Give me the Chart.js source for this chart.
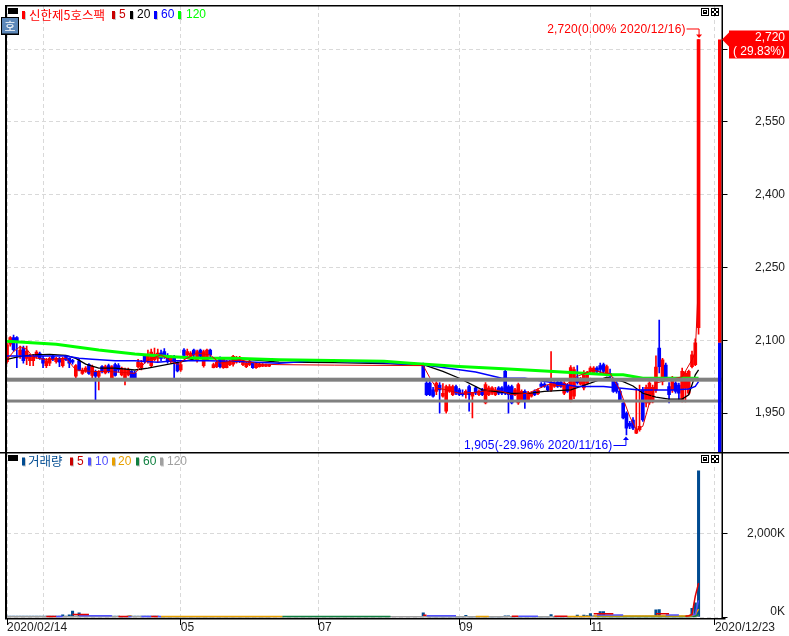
<!DOCTYPE html>
<html>
<head>
<meta charset="utf-8">
<style>
body { margin: 0; background: #fff; }
canvas { position: absolute; left: 0; }
#price { top: 0; }
#volume { top: 452px; }
</style>
<script src="https://cdn.jsdelivr.net/npm/chart.js@4"></script>
</head>
<body>
<canvas id="price" width="789" height="452"></canvas>
<canvas id="volume" width="789" height="184"></canvas>
<script>
// day 0 = 2020/02/14, day 216 = 2020/12/23
const dayCount = 219;
const tickDays = [0, 11, 53, 95, 138, 178, 216];
const tickTexts = ['2020/02/14', '', '05', '07', '09', '11', '2020/12/23'];
const priceTicks = [1950, 2100, 2250, 2400, 2550, 2700];
const volumeTicks = [0, 2000];

// trading stopped between the two runs
const firstRunDays = 81;
const secondRunStart = 127;

const opens = [2056,2092,2106,2106,2070,2084,2063,2058,2058,2067,2073,2063,2048,2053,2067,2056,2063,2048,2067,2063,
  2059,2026,2058,2032,2036,2050,2028,2036,2026,2046,2033,2048,2022,2050,2048,2029,2022,2029,2036,2033,
  2046,2043,2067,2056,2048,2060,2063,2074,2077,2067,2056,2063,2053,2039,2080,2070,2063,2080,2058,2080,
  2048,2060,2080,2044,2046,2063,2044,2044,2050,2051,2055,2056,2050,2046,2050,2053,2044,2046,2047,2047,2047,
  2050,2012,2012,1998,1995,2008,1985,1954,1995,1988,2005,1998,1991,1988,2005,1985,2002,1988,1998,1971,
  1988,1991,1988,2002,2002,2036,2005,2005,1988,1971,1978,1995,1978,1985,1995,1990,2010,2010,2005,1998,
  2005,2014,2014,1991,2008,1978,1985,2023,2010,2002,2012,2036,2033,2043,2048,2050,2032,2032,2019,2011,
  1995,1971,1950,1929,1936,1909,1916,1998,1971,1971,1973,1998,2084,2015,2049,2005,1998,2012,2008,1978,
  2001,1991,2046,2050,2126];
const closes = [2091,2106,2081,2098,2080,2058,2078,2067,2067,2076,2063,2053,2058,2063,2060,2063,2055,2063,2060,2053,
  2055,2048,2039,2039,2043,2032,2046,2026,2036,2036,2046,2037,2046,2028,2039,2043,2039,2039,2022,2022,
  2055,2053,2058,2067,2076,2072,2074,2063,2067,2056,2063,2055,2037,2050,2069,2077,2074,2070,2077,2067,
  2077,2080,2070,2050,2055,2046,2062,2056,2056,2067,2065,2065,2058,2053,2057,2044,2051,2051,2050,2049,2049,
  2022,1988,1988,1985,2012,1998,1991,2005,2005,2005,1991,1988,1988,1995,1988,1991,1991,1995,1988,2009,
  2002,2002,1998,1991,1991,1991,1988,1971,1998,2009,1995,1978,1991,1991,1988,1997,2005,2005,1998,2012,
  2012,2005,2005,2012,1995,2044,2040,2013,2020,2029,2033,2043,2043,2036,2040,2036,2046,2026,1995,1995,
  1978,1940,1919,1923,1919,1916,1923,1936,2003,2012,2003,2045,2046,2060,2022,1988,2022,1995,1991,2036,
  2032,2036,2070,2095,2720];
const highs = [2094,2108,2111,2108,2088,2088,2088,2071,2071,2079,2076,2067,2063,2065,2071,2065,2065,2065,2069,2064,
  2061,2050,2061,2043,2046,2052,2049,2039,2038,2048,2049,2051,2048,2053,2052,2045,2043,2043,2038,2036,
  2061,2059,2071,2080,2082,2084,2082,2080,2083,2073,2068,2069,2056,2055,2083,2082,2077,2082,2080,2082,
  2080,2082,2082,2053,2058,2066,2065,2059,2059,2069,2067,2067,2060,2055,2059,2055,2053,2053,2052,2051,2050,
  2053,2018,2015,2003,2015,2013,2011,2008,2009,2008,2008,2001,1998,1998,2008,1993,2005,1998,2001,2013,
  2006,2005,2003,2005,2005,2039,2008,2008,2001,2012,1998,1998,1995,1994,1998,2000,2013,2013,2008,2077,
  2015,2017,2017,2015,2011,2048,2045,2048,2024,2038,2036,2046,2046,2046,2053,2053,2049,2041,2023,2015,
  1999,1978,1953,1933,1941,1998,2008,2003,2008,2015,2008,2068,2142,2063,2053,2013,2026,2015,2012,2043,
  2036,2039,2078,2103,2720];
const lows = [2053,2088,2078,2044,2063,2053,2050,2048,2048,2063,2061,2044,2044,2048,2058,2053,2046,2045,2058,2044,
  2051,2023,2037,2030,2034,2030,2023,1977,1998,2033,2031,2033,2020,2026,2035,2027,2008,2027,2020,2020,
  2043,2039,2053,2053,2045,2058,2055,2058,2063,2053,2053,2023,2035,2036,2063,2063,2061,2063,2055,2063,
  2045,2058,2065,2043,2044,2043,2042,2043,2048,2047,2053,2054,2048,2044,2048,2042,2042,2045,2046,2046,2046,
  2018,1986,1986,1983,1988,1950,1983,1950,1993,1986,1988,1986,1985,1981,1954,1940,1988,1986,1986,1969,
  1986,1988,1986,1988,1988,1988,1950,1969,1986,1968,1976,1960,1976,1983,1986,1988,2003,2003,1996,1995,
  2003,2003,2003,1988,1993,1973,1980,2010,2008,1998,2010,2030,2030,2033,2033,2033,2029,2018,1993,1991,
  1975,1938,1905,1918,1916,1908,1913,1933,1963,1968,1971,1993,2033,2008,2018,1971,1993,1991,1978,1973,
  1973,1988,2043,2048,2113];

// moving averages read at the bends of each line
const ma5Days = [0,2,4,6,8,12,18,21,26,31,39,43,47,52,54,58,62,65,71,77,83,100,127,129,131,134,138,143,148,151,154,159,165,170,174,179,182,184,187,190,192,194,196,198,202,206,209,210,211];
const ma5Vals = [2060,2077,2087,2082,2065,2060,2063,2039,2036,2036,2032,2060,2070,2050,2060,2074,2070,2053,2060,2051,2050,2049,2048,2023,2002,1998,1991,1993,1998,1995,1988,1991,2009,2006,2026,2039,2033,2032,1998,1943,1916,1923,1971,2012,2019,2025,2060,2075,2225];
const ma20Days = [0,2,4,8,13,18,21,24,28,33,39,43,47,51,56,59,64,69,75,83,100,115,127,133,138,145,154,159,164,172,178,183,188,191,194,198,202,206,208,210,211];
const ma20Vals = [2061,2064,2067,2070,2071,2069,2063,2051,2043,2043,2039,2043,2048,2053,2060,2065,2063,2062,2060,2055,2054,2052,2050,2036,2022,1998,1991,1991,1995,1998,2012,2024,2015,2006,1991,1983,1979,1979,1988,2029,2039];
const ma60Days = [0,12,18,22,26,33,39,46,51,61,69,83,94,115,123,127,133,143,151,158,174,182,193,203,208,210,211];
const ma60Vals = [2068,2068,2068,2063,2061,2058,2058,2055,2058,2058,2057,2053,2058,2054,2050,2050,2044,2035,2022,2022,2005,2005,1998,1998,2000,2005,2015];
const ma120Days = [0,15,28,39,49,59,69,83,94,115,123,138,153,164,184,188,194,211];
const ma120Vals = [2098,2092,2080,2072,2067,2063,2063,2060,2059,2057,2053,2046,2041,2037,2029,2029,2022,2022];

const grayLevels = [2019, 1975];
const highDay = 211, highVal = 2720, prevClose = 2095;
const lowDay = 189, lowVal = 1905;

// volume in thousands, same two runs as the candles
const volumes = [20,20,20,20,20,20,20,20,20,20,20,20,20,20,20,20,20,50,20,50,
  140,20,100,20,20,20,20,20,20,20,20,20,20,20,20,5,5,20,20,20,
  20,20,20,20,20,20,20,3,3,3,3,3,3,3,3,3,3,3,3,3,
  3,3,3,3,3,3,3,3,3,3,3,3,3,3,3,3,3,3,3,3,3,
  100,10,3,3,3,3,3,3,3,3,3,3,3,40,3,3,3,3,3,3,
  3,3,3,3,3,30,30,3,3,3,3,3,3,3,3,3,3,3,3,60,
  3,3,3,3,3,3,3,45,3,45,35,80,30,30,130,130,30,24,24,24,
  24,24,24,24,24,24,24,24,24,24,24,170,180,24,24,24,24,24,24,24,
  24,24,210,340,3518];
const volMa5Days = [12,15,null,20,25,null,34,37,null,44,46,null,127,128,null,154,156,null,167,171,null,179,185,null,198,202,null,207,208,209,210,211];
const volMa5Vals = [10,10,null,60,60,null,10,10,null,12,12,null,40,40,null,20,20,null,20,20,null,80,80,null,80,80,null,20,30,60,500,817];
const volMa10Days = [15,17,null,22,32,null,37,38,null,41,44,null,46,47,null,128,137,null,156,162,null,180,188,null,201,205,null,209,210,211];
const volMa10Vals = [10,10,null,30,30,null,10,10,null,12,12,null,12,12,null,30,30,null,20,20,null,50,50,null,50,50,null,40,70,400];
const volMa20Days = [37,38,null,47,84,null,143,147,null,171,178,null,179,208,209,210,211];
const volMa20Vals = [30,30,null,12,12,null,12,12,null,12,12,null,25,25,30,60,190];
const volMa60Days = [84,117,null,180,208,210,211];
const volMa60Vals = [10,10,null,12,14,20,60];
const volMa120Days = [0,208,210,211];
const volMa120Vals = [6,8,12,35];

const RED = '#ff0000', BLUE = '#0000ff', SANS = '"Liberation Sans"', KR = '"Noto Sans CJK KR"';

const dayLabels = Array.from({ length: dayCount }, (_, i) => i);

function runDay(run) {
  return run < firstRunDays ? run : secondRunStart + run - firstRunDays;
}
function byDay(vals) {
  const out = new Array(dayCount).fill(null);
  vals.forEach((v, run) => { out[runDay(run)] = v; });
  return out;
}
function points(days, vals) {
  return days.map((d, i) => d === null ? { x: days[i - 1], y: null } : { x: d, y: vals[i] });
}
function lineSet(days, vals, color, width, order) {
  return { type: 'line', data: points(days, vals), borderColor: color, borderWidth: width,
    pointRadius: 0, tension: 0, spanGaps: false, order: order };
}

const barColors = byDay(opens.map((o, i) => closes[i] >= o ? RED : BLUE));
const bodies = byDay(opens.map((o, i) => [o, closes[i]]));
const wicks = byDay(lows.map((l, i) => [l, highs[i]]));

function xAxis(showLabels) {
  return {
    offset: false,
    grid: { offset: false, color: '#d9d9d9', drawTicks: showLabels, tickLength: 7,
      tickColor: c => tickTexts[c.index] === '' ? 'rgba(0,0,0,0)' : '#000' },
    border: { display: false, dash: [4, 3] },
    afterBuildTicks: s => { s.ticks = tickDays.map(d => ({ value: d })); },
    afterFit: s => { s.height = showLabels ? 18 : 0; s.paddingLeft = 0; s.paddingRight = 0; },
    ticks: { display: showLabels, autoSkip: false, maxRotation: 0, align: 'start', padding: -5, color: '#222',
      font: { family: SANS, size: 12 },
      callback: v => tickTexts[tickDays.indexOf(v)] }
  };
}
function yAxis(tickVals, min, max, fmt) {
  return {
    position: 'right', min: min, max: max,
    grid: { color: '#d9d9d9', tickColor: '#000', tickLength: 6 },
    border: { display: false, dash: [4, 3] },
    afterBuildTicks: s => { s.ticks = tickVals.map(v => ({ value: v })); },
    afterFit: s => { s.width = 63.5; s.paddingTop = 0; s.paddingBottom = 0; },
    ticks: { crossAlign: 'far', padding: 3, color: '#222', font: { family: SANS, size: 12 }, callback: fmt }
  };
}

function text(ctx, str, x, y, color, font, align) {
  ctx.fillStyle = color;
  ctx.font = font;
  ctx.textAlign = align || 'left';
  ctx.textBaseline = 'middle';
  ctx.fillText(str, x, y);
}
function legendRow(ctx, y, items) {
  // each item: marker x, text x, colour, label, font
  items.forEach(it => {
    ctx.fillStyle = '#c8c8c8';
    ctx.fillRect(it[0] + 1, y - 3, 3, 8);
    ctx.fillStyle = it[2];
    ctx.fillRect(it[0], y - 4, 3, 8);
    text(ctx, it[3], it[1], y, it[2], it[4]);
  });
}
function panelButtons(ctx, y) {
  ctx.fillStyle = '#000';
  ctx.fillRect(8, y, 10, 6);
  ctx.fillRect(701, y, 8, 8);
  ctx.fillRect(711, y, 8, 8);
  ctx.fillStyle = '#fff';
  ctx.fillRect(702, y + 1, 6, 6);
  ctx.fillRect(712, y + 1, 2, 2);
  ctx.fillRect(716, y + 1, 2, 2);
  ctx.fillRect(714, y + 3, 2, 2);
  ctx.fillRect(712, y + 5, 2, 2);
  ctx.fillRect(716, y + 5, 2, 2);
  ctx.fillStyle = '#000';
  ctx.fillRect(703, y + 2, 4, 4);
  ctx.fillStyle = '#fff';
  ctx.fillRect(704, y + 3, 2, 1);
}
function frame(ctx, a) {
  ctx.fillStyle = '#000';
  ctx.fillRect(a.left - 2, a.top - 1, a.right - a.left + 3.5, 1.5);
  ctx.fillRect(a.left - 2, a.top - 1, 2, a.bottom - a.top + 2);
  ctx.fillRect(a.right, a.top - 1, 1.5, a.bottom - a.top + 2);
}

const pricePlugin = {
  id: 'pricePlugin',
  afterDatasetsDraw(chart) {
    const ctx = chart.ctx, a = chart.chartArea, xs = chart.scales.x, ys = chart.scales.y;
    ctx.save();
    ctx.fillStyle = '#808080';
    ctx.fillRect(a.left, ys.getPixelForValue(grayLevels[0]) - 2, a.right - a.left, 4);
    ctx.fillRect(a.left, ys.getPixelForValue(grayLevels[1]) - 1.5, a.right - a.left, 3);
    // today's range gauge next to the axis
    const gaugeTop = ys.getPixelForValue(highVal), gaugeMid = ys.getPixelForValue(prevClose);
    ctx.fillStyle = RED;
    ctx.fillRect(a.right - 3.5, gaugeTop, 3.5, gaugeMid - gaugeTop);
    ctx.fillStyle = BLUE;
    ctx.fillRect(a.right - 3.5, gaugeMid, 3.5, a.bottom - gaugeMid);
    frame(ctx, a);
    panelButtons(ctx, 8);
    // high and low callouts
    const hx = xs.getPixelForValue(highDay), hy = ys.getPixelForValue(highVal);
    ctx.letterSpacing = '0.13px';
    text(ctx, '2,720(0.00% 2020/12/16)', hx - 13, hy - 10, RED, '12px ' + SANS, 'right');
    ctx.strokeStyle = RED;
    ctx.lineWidth = 1;
    ctx.beginPath();
    ctx.moveTo(hx - 12, hy - 10.5); ctx.lineTo(hx + 0.5, hy - 10.5); ctx.lineTo(hx + 0.5, hy - 3);
    ctx.stroke();
    ctx.fillStyle = RED;
    ctx.beginPath();
    ctx.moveTo(hx - 2.5, hy - 5); ctx.lineTo(hx + 3.5, hy - 5); ctx.lineTo(hx + 0.5, hy - 1.5);
    ctx.fill();
    const lx = xs.getPixelForValue(lowDay), ly = ys.getPixelForValue(lowVal);
    text(ctx, '1,905(-29.96% 2020/11/16)', lx - 14, ly + 10.5, BLUE, '12px ' + SANS, 'right');
    ctx.letterSpacing = '0px';
    ctx.strokeStyle = BLUE;
    ctx.beginPath();
    ctx.moveTo(lx - 13, ly + 10.5); ctx.lineTo(lx - 0.5, ly + 10.5); ctx.lineTo(lx - 0.5, ly + 3);
    ctx.stroke();
    ctx.fillStyle = BLUE;
    ctx.beginPath();
    ctx.moveTo(lx - 3.5, ly + 5); ctx.lineTo(lx + 2.5, ly + 5); ctx.lineTo(lx - 0.5, ly + 1.5);
    ctx.fill();
    // last price tag
    ctx.fillStyle = RED;
    ctx.fillRect(729, hy - 9, 60, 28);
    ctx.beginPath();
    ctx.moveTo(729, hy - 7); ctx.lineTo(729, hy + 7); ctx.lineTo(722, hy);
    ctx.fill();
    text(ctx, '2,720', 785, hy - 2, '#fff', '12px ' + SANS, 'right');
    text(ctx, '( 29.83%)', 785, hy + 12, '#fff', '12px ' + SANS, 'right');
    // legend
    legendRow(ctx, 15, [
      [22, 29, '#ff0000', '신한제5호스팩', '12.5px ' + KR],
      [112, 119, '#c80000', '5', '12px ' + SANS],
      [130, 137, '#000000', '20', '12px ' + SANS],
      [154, 161, '#0000ff', '60', '12px ' + SANS],
      [178, 186, '#00ff00', '120', '12px ' + SANS]
    ]);
    ctx.fillStyle = '#000';
    ctx.fillRect(1, 17, 18, 18);
    ctx.fillStyle = '#5c87b8';
    ctx.fillRect(2, 18, 16, 15.5);
    text(ctx, '호', 10, 26, '#fff', '12px ' + KR, 'center');
    ctx.restore();
  }
};

const volumePlugin = {
  id: 'volumePlugin',
  afterDatasetsDraw(chart) {
    const ctx = chart.ctx, a = chart.chartArea, ys = chart.scales.y;
    ctx.save();
    ctx.fillStyle = '#000';
    ctx.fillRect(0, 0, 789, 1.5);
    ctx.fillRect(a.left - 2, a.bottom, a.right - a.left + 6, 1.5);
    ctx.fillRect(a.left - 2, a.top - 1, 2, a.bottom - a.top + 2);
    ctx.fillRect(a.right, a.top - 1, 1.5, a.bottom - a.top + 2);
    panelButtons(ctx, 3);
    text(ctx, '0K', 785, ys.getPixelForValue(volumeTicks[0]) - 5, '#222', '12px ' + SANS, 'right');
    legendRow(ctx, 9.5, [
      [22, 28, '#004b91', '거래량', '12.5px ' + KR],
      [70, 77, '#c80000', '5', '12px ' + SANS],
      [88, 95, '#5050ff', '10', '12px ' + SANS],
      [112, 118, '#e8a000', '20', '12px ' + SANS],
      [136, 143, '#108040', '60', '12px ' + SANS],
      [160, 167, '#a0a0a0', '120', '12px ' + SANS]
    ]);
    ctx.restore();
  }
};

new Chart(document.getElementById('price'), {
  type: 'bar',
  plugins: [pricePlugin],
  data: {
    labels: dayLabels,
    datasets: [
      { data: wicks, backgroundColor: barColors, barThickness: 1, order: 10 },
      { data: bodies, backgroundColor: barColors, barThickness: 3, order: 9 },
      lineSet(ma120Days, ma120Vals, '#00ff00', 3, 5),
      lineSet(ma60Days, ma60Vals, '#0000ff', 1.5, 6),
      lineSet(ma20Days, ma20Vals, '#000000', 1.3, 7),
      lineSet(ma5Days, ma5Vals, '#e00000', 1, 4)
    ]
  },
  options: {
    responsive: false, animation: false, devicePixelRatio: 1,
    datasets: { bar: { grouped: false } },
    layout: { padding: { left: 7, top: 6, right: 4, bottom: 0 } },
    plugins: { legend: { display: false }, tooltip: { enabled: false } },
    scales: {
      x: xAxis(false),
      y: yAxis(priceTicks, 1870, 2789, v => v.toLocaleString('en-US'))
    }
  }
});

new Chart(document.getElementById('volume'), {
  type: 'bar',
  plugins: [volumePlugin],
  data: {
    labels: dayLabels,
    datasets: [
      { data: byDay(volumes), backgroundColor: '#004b91', barThickness: 2.4, order: 20 },
      lineSet(volMa120Days, volMa120Vals, '#a0a0a0', 1.5, 10),
      lineSet(volMa60Days, volMa60Vals, '#108040', 1.5, 9),
      lineSet(volMa20Days, volMa20Vals, '#e8a000', 1.5, 8),
      lineSet(volMa10Days, volMa10Vals, '#5050ff', 1.5, 7),
      lineSet(volMa5Days, volMa5Vals, '#e00000', 1.5, 6)
    ]
  },
  options: {
    responsive: false, animation: false, devicePixelRatio: 1,
    datasets: { bar: { grouped: false } },
    layout: { padding: { left: 7, top: 1, right: 4, bottom: 0 } },
    plugins: { legend: { display: false }, tooltip: { enabled: false } },
    scales: {
      x: xAxis(true),
      y: yAxis(volumeTicks, -24, 3950, v => v === 0 ? '' : v.toLocaleString('en-US') + 'K')
    }
  }
});
</script>
</body>
</html>
